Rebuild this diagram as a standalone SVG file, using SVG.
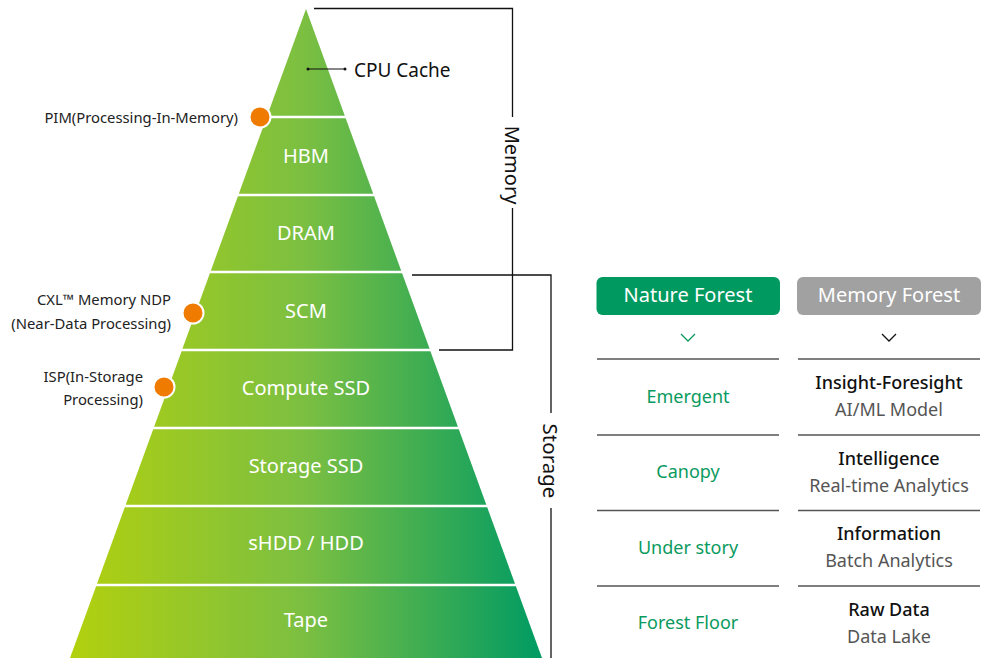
<svg xmlns="http://www.w3.org/2000/svg" width="984" height="658" viewBox="0 0 984 658">
<defs>
<linearGradient id="g" gradientUnits="userSpaceOnUse" x1="70" y1="0" x2="542" y2="0">
<stop offset="0" stop-color="#b2d00e"/>
<stop offset="0.5" stop-color="#7bbf42"/>
<stop offset="1" stop-color="#009b63"/>
</linearGradient>
</defs>
<style>
text{font-family:"Noto Sans","Liberation Sans",sans-serif;}
.layer{fill:url(#g);}
.lt{fill:#fff;font-size:20px;text-anchor:middle;}
.br{fill:none;stroke:#111;stroke-width:1.3;}
.dot{fill:#ef7b00;stroke:#fff;stroke-width:2;}
.side{fill:#222;font-size:14.8px;text-anchor:end;}
.rule{stroke:#555;stroke-width:1.5;}
.nat{fill:#0a9a60;font-size:18px;text-anchor:middle;}
.mt{fill:#111;font-size:18px;text-anchor:middle;font-weight:500;}
.ms{fill:#555;font-size:18px;text-anchor:middle;}
.btn{fill:#fff;font-size:20px;text-anchor:middle;}
</style>

<g id="cpu-cache">
<polygon class="layer" points="306,9 344.8,115.8 267.2,115.8"/>
<line x1="308" y1="69" x2="345" y2="69" stroke="#111" stroke-width="1"/>
<circle cx="308" cy="69" r="1.5" fill="#111"/>
<circle cx="345" cy="69" r="1.5" fill="#111"/>
<text x="354" y="77" font-size="19" fill="#111">CPU Cache</text>
</g>
<g id="hbm">
<polygon class="layer" points="266.3,118.2 345.7,118.2 373.2,193.8 238.8,193.8"/>
<text class="lt" x="306" y="163">HBM</text>
</g>
<g id="dram">
<polygon class="layer" points="237.9,196.2 374.1,196.2 401.2,270.8 210.8,270.8"/>
<text class="lt" x="306" y="240">DRAM</text>
</g>
<g id="scm">
<polygon class="layer" points="209.9,273.2 402.1,273.2 429.6,348.8 182.4,348.8"/>
<text class="lt" x="306" y="318">SCM</text>
</g>
<g id="compute-ssd">
<polygon class="layer" points="181.6,351.2 430.4,351.2 457.9,426.8 154.1,426.8"/>
<text class="lt" x="306" y="395">Compute SSD</text>
</g>
<g id="storage-ssd">
<polygon class="layer" points="153.2,429.2 458.8,429.2 486.3,504.8 125.7,504.8"/>
<text class="lt" x="306" y="473">Storage SSD</text>
</g>
<g id="hdd">
<polygon class="layer" points="124.8,507.2 487.2,507.2 515,583.8 97,583.8"/>
<text class="lt" x="306" y="550">sHDD / HDD</text>
</g>
<g id="tape">
<polygon class="layer" points="96.1,586.2 515.9,586.2 542,658 70,658"/>
<text class="lt" x="306" y="627">Tape</text>
</g>

<g id="pim">
<circle class="dot" cx="260" cy="117" r="10.5"/>
<text class="side" x="238" y="123">PIM(Processing-In-Memory)</text>
</g>
<g id="cxl-ndp">
<circle class="dot" cx="193" cy="313" r="10.5"/>
<text class="side" x="171" y="305">CXL™ Memory NDP</text>
<text class="side" x="171" y="329">(Near-Data Processing)</text>
</g>
<g id="isp">
<circle class="dot" cx="164" cy="387" r="10.5"/>
<text class="side" x="143" y="382">ISP(In-Storage</text>
<text class="side" x="143" y="405">Processing)</text>
</g>

<g id="connectors">
<polyline class="br" points="314,8.5 512.5,8.5 512.5,117"/>
<polyline class="br" points="512.5,208 512.5,350 439,350"/>
<polyline class="br" points="412,275 551,275 551,413"/>
<line class="br" x1="551" y1="508" x2="551" y2="658"/>
</g>

<g id="memory-label">
<text transform="translate(505,165) rotate(90)" font-size="20" fill="#111" text-anchor="middle">Memory</text>
</g>
<g id="storage-label">
<text transform="translate(543,461) rotate(90)" font-size="20.5" fill="#111" text-anchor="middle">Storage</text>
</g>

<g id="nature-forest">
<rect x="596.5" y="277" width="183.5" height="38" rx="6" fill="#009a61"/>
<text class="btn" x="688" y="302">Nature Forest</text>
<polyline points="681,334 688,341 695,334" fill="none" stroke="#0a9a60" stroke-width="1.3"/>
</g>
<g id="memory-forest">
<rect x="797" y="277" width="184" height="38" rx="6" fill="#a1a1a1"/>
<text class="btn" x="889" y="302">Memory Forest</text>
<polyline points="882,334 889,341 896,334" fill="none" stroke="#111" stroke-width="1.3"/>
</g>

<g id="table-rules">
<line class="rule" x1="597" y1="359" x2="779" y2="359"/>
<line class="rule" x1="798" y1="359" x2="980" y2="359"/>
<line class="rule" x1="597" y1="435" x2="779" y2="435"/>
<line class="rule" x1="798" y1="435" x2="980" y2="435"/>
<line class="rule" x1="597" y1="510.5" x2="779" y2="510.5"/>
<line class="rule" x1="798" y1="510.5" x2="980" y2="510.5"/>
<line class="rule" x1="597" y1="586" x2="779" y2="586"/>
<line class="rule" x1="798" y1="586" x2="980" y2="586"/>
</g>

<g id="emergent"><text class="nat" x="688" y="403">Emergent</text></g>
<g id="canopy"><text class="nat" x="688" y="478">Canopy</text></g>
<g id="under-story"><text class="nat" x="688" y="554">Under story</text></g>
<g id="forest-floor"><text class="nat" x="688" y="629">Forest Floor</text></g>

<g id="insight"><text class="mt" x="889" y="389">Insight-Foresight</text><text class="ms" x="889" y="416">AI/ML Model</text></g>
<g id="intelligence"><text class="mt" x="889" y="465">Intelligence</text><text class="ms" x="889" y="492">Real-time Analytics</text></g>
<g id="information"><text class="mt" x="889" y="540">Information</text><text class="ms" x="889" y="567">Batch Analytics</text></g>
<g id="raw-data"><text class="mt" x="889" y="616">Raw Data</text><text class="ms" x="889" y="643">Data Lake</text></g>
</svg>
